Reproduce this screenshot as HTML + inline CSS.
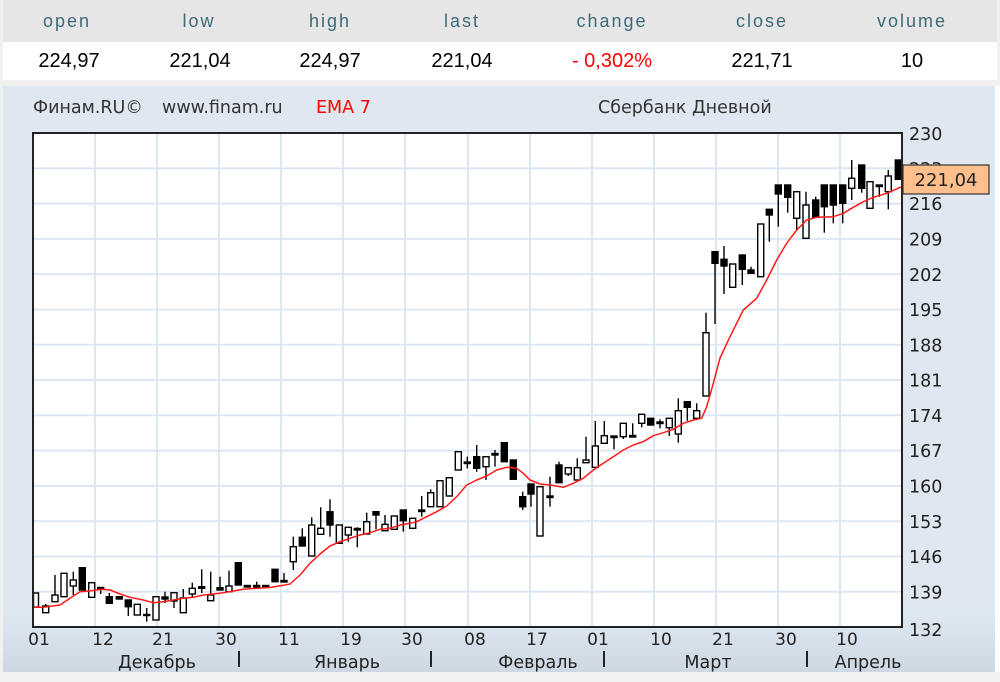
<!DOCTYPE html>
<html><head><meta charset="utf-8">
<style>
html,body{margin:0;padding:0;background:#fff;}
svg{display:block;}
.h{fill:#fff;stroke:#000;stroke-width:1.4}
.f{fill:#000;stroke:#000;stroke-width:1.4}
.w line{stroke:#000;stroke-width:1.4}
.hd{font-family:"Liberation Sans",sans-serif;font-size:18px;fill:#3d6a7a;letter-spacing:2px;text-anchor:middle}
.vl{font-family:"Liberation Sans",sans-serif;font-size:20px;fill:#000;text-anchor:middle}
.ct{font-family:"DejaVu Sans",sans-serif;font-size:17.5px;fill:#333}
.ax{font-family:"DejaVu Sans",sans-serif;font-size:17.5px;fill:#222}
.tk{font-family:"DejaVu Sans",sans-serif;font-size:17px;fill:#222;text-anchor:middle}
.mo{font-family:"DejaVu Sans",sans-serif;font-size:17.5px;fill:#222;text-anchor:middle}
</style></head><body>
<svg width="1000" height="682" viewBox="0 0 1000 682" xmlns="http://www.w3.org/2000/svg">
<defs>
<linearGradient id="bg" x1="0" y1="0" x2="0" y2="1">
<stop offset="0" stop-color="#dfe8f1"/><stop offset="0.9" stop-color="#dfe8f1"/><stop offset="1" stop-color="#cdd8e3"/>
</linearGradient>
<clipPath id="pc"><rect x="33" y="133" width="869" height="494"/></clipPath>
</defs>
<rect x="0" y="0" width="1000" height="682" fill="#f0f0f0"/>
<rect x="3" y="0" width="994" height="42" fill="#e6e6e6"/>
<rect x="3" y="42" width="994" height="38" fill="#ffffff"/>
<rect x="3" y="86" width="992" height="586" fill="url(#bg)"/>
<rect x="995" y="86" width="5" height="586" fill="#ffffff"/>

<text class="hd" x="67" y="27">open</text>
<text class="hd" x="199" y="27">low</text>
<text class="hd" x="330" y="27">high</text>
<text class="hd" x="462" y="27">last</text>
<text class="hd" x="612" y="27">change</text>
<text class="hd" x="762" y="27">close</text>
<text class="hd" x="912" y="27">volume</text>

<text class="vl" x="69" y="67">224,97</text>
<text class="vl" x="200" y="67">221,04</text>
<text class="vl" x="330" y="67">224,97</text>
<text class="vl" x="462" y="67">221,04</text>
<text class="vl" x="612" y="67" fill="#ff0000" style="fill:#ff0000">- 0,302%</text>
<text class="vl" x="762" y="67">221,71</text>
<text class="vl" x="912" y="67">10</text>

<text class="ct" x="33" y="113">Финам.RU©</text>
<text class="ct" x="162" y="113">www.finam.ru</text>
<text class="ct" x="316" y="113" style="fill:#ff0000">EMA 7</text>
<text class="ct" x="598" y="113">Сбербанк Дневной</text>

<rect x="33" y="133" width="869" height="494" fill="#fff"/>
<g stroke="#dde7f2" stroke-width="2">
<line x1="95" y1="133" x2="95" y2="627"/><line x1="157" y1="133" x2="157" y2="627"/>
<line x1="219" y1="133" x2="219" y2="627"/><line x1="281" y1="133" x2="281" y2="627"/>
<line x1="343" y1="133" x2="343" y2="627"/><line x1="405" y1="133" x2="405" y2="627"/>
<line x1="468" y1="133" x2="468" y2="627"/><line x1="530" y1="133" x2="530" y2="627"/>
<line x1="592" y1="133" x2="592" y2="627"/><line x1="654" y1="133" x2="654" y2="627"/>
<line x1="716" y1="133" x2="716" y2="627"/><line x1="778" y1="133" x2="778" y2="627"/>
<line x1="840" y1="133" x2="840" y2="627"/>
<line x1="33" y1="168.3" x2="902" y2="168.3"/><line x1="33" y1="203.6" x2="902" y2="203.6"/>
<line x1="33" y1="238.9" x2="902" y2="238.9"/><line x1="33" y1="274.2" x2="902" y2="274.2"/>
<line x1="33" y1="309.5" x2="902" y2="309.5"/><line x1="33" y1="344.7" x2="902" y2="344.7"/>
<line x1="33" y1="380" x2="902" y2="380"/><line x1="33" y1="415.3" x2="902" y2="415.3"/>
<line x1="33" y1="450.6" x2="902" y2="450.6"/><line x1="33" y1="485.9" x2="902" y2="485.9"/>
<line x1="33" y1="521.2" x2="902" y2="521.2"/><line x1="33" y1="556.5" x2="902" y2="556.5"/>
<line x1="33" y1="591.7" x2="902" y2="591.7"/>
</g>

<g clip-path="url(#pc)">
<g class="w">
<line x1="36" y1="593" x2="36" y2="607"/><line x1="45.7" y1="604" x2="45.7" y2="613"/>
<line x1="55" y1="575" x2="55" y2="601.7"/><line x1="64" y1="573" x2="64" y2="597"/>
<line x1="73.3" y1="571.7" x2="73.3" y2="595"/><line x1="82.3" y1="567.7" x2="82.3" y2="590"/>
<line x1="91.7" y1="582.7" x2="91.7" y2="597.3"/><line x1="100.7" y1="587" x2="100.7" y2="594"/>
<line x1="109.3" y1="593" x2="109.3" y2="603.3"/><line x1="119.3" y1="596" x2="119.3" y2="599"/>
<line x1="128.3" y1="600" x2="128.3" y2="616"/><line x1="137.3" y1="604.3" x2="137.3" y2="615"/>
<line x1="146.7" y1="608" x2="146.7" y2="621.7"/><line x1="156" y1="596.7" x2="156" y2="620"/>
<line x1="165" y1="591.7" x2="165" y2="603"/><line x1="174" y1="592.7" x2="174" y2="608"/>
<line x1="183.3" y1="589" x2="183.3" y2="612.7"/><line x1="192.3" y1="582.7" x2="192.3" y2="598"/>
<line x1="201.7" y1="569.3" x2="201.7" y2="593"/><line x1="210.7" y1="571.7" x2="210.7" y2="600.7"/>
<line x1="220" y1="576.7" x2="220" y2="590"/><line x1="229" y1="570.7" x2="229" y2="591.7"/>
<line x1="256.7" y1="581.7" x2="256.7" y2="587"/><line x1="284" y1="573" x2="284" y2="582"/>
<line x1="293.3" y1="536.7" x2="293.3" y2="570"/><line x1="302.3" y1="528.3" x2="302.3" y2="546"/>
<line x1="311.7" y1="517.3" x2="311.7" y2="556"/><line x1="320.7" y1="507.3" x2="320.7" y2="534.3"/>
<line x1="330" y1="499.3" x2="330" y2="536.7"/><line x1="348.3" y1="527.3" x2="348.3" y2="541.7"/>
<line x1="357.3" y1="527.3" x2="357.3" y2="547.3"/><line x1="366.7" y1="512.7" x2="366.7" y2="534"/>
<line x1="376" y1="511.7" x2="376" y2="529.3"/><line x1="385" y1="515" x2="385" y2="530.7"/>
<line x1="403.3" y1="510" x2="403.3" y2="531.7"/><line x1="421.7" y1="496" x2="421.7" y2="516.7"/>
<line x1="430.7" y1="489.3" x2="430.7" y2="506.7"/><line x1="467.3" y1="456.7" x2="467.3" y2="468.3"/>
<line x1="476.7" y1="445" x2="476.7" y2="471.7"/><line x1="486" y1="456.7" x2="486" y2="480"/>
<line x1="495" y1="450" x2="495" y2="466.7"/><line x1="522.7" y1="491.7" x2="522.7" y2="510"/>
<line x1="531" y1="484" x2="531" y2="506.7"/><line x1="550" y1="476.7" x2="550" y2="506.7"/>
<line x1="559" y1="461.7" x2="559" y2="482.7"/><line x1="568.3" y1="467.7" x2="568.3" y2="476"/>
<line x1="577.3" y1="458.3" x2="577.3" y2="480"/><line x1="586" y1="436.7" x2="586" y2="462.7"/>
<line x1="595.3" y1="421" x2="595.3" y2="467.3"/><line x1="604.3" y1="421" x2="604.3" y2="443.3"/>
<line x1="614" y1="436.7" x2="614" y2="449.3"/><line x1="623.3" y1="423.3" x2="623.3" y2="439"/>
<line x1="632.7" y1="423.3" x2="632.7" y2="437"/><line x1="641.7" y1="414.3" x2="641.7" y2="427.3"/>
<line x1="660" y1="419.3" x2="660" y2="428.3"/><line x1="669.3" y1="418.3" x2="669.3" y2="436"/>
<line x1="678.3" y1="398.3" x2="678.3" y2="442.7"/><line x1="687.3" y1="401.7" x2="687.3" y2="420.7"/>
<line x1="696.7" y1="403.3" x2="696.7" y2="418.3"/><line x1="706" y1="312.7" x2="706" y2="396"/>
<line x1="715" y1="251.7" x2="715" y2="324"/><line x1="724" y1="246" x2="724" y2="294"/>
<line x1="742.3" y1="255" x2="742.3" y2="285"/><line x1="751" y1="266.7" x2="751" y2="273.3"/>
<line x1="769.3" y1="209.3" x2="769.3" y2="241.7"/><line x1="778.3" y1="185" x2="778.3" y2="226.7"/>
<line x1="787.7" y1="185" x2="787.7" y2="212.7"/><line x1="796.7" y1="191.7" x2="796.7" y2="230"/>
<line x1="806" y1="191.7" x2="806" y2="238.3"/><line x1="815.7" y1="196.7" x2="815.7" y2="217.3"/>
<line x1="824.3" y1="185" x2="824.3" y2="232.7"/><line x1="833.3" y1="185" x2="833.3" y2="223.3"/>
<line x1="842.7" y1="185" x2="842.7" y2="223.3"/><line x1="851.7" y1="160" x2="851.7" y2="200"/>
<line x1="861.7" y1="165" x2="861.7" y2="192.7"/><line x1="879.3" y1="185" x2="879.3" y2="196.7"/>
<line x1="888.3" y1="170" x2="888.3" y2="209.3"/>
</g>
<rect class="h" x="33.5" y="593" width="5" height="14"/>
<rect class="h" x="42.7" y="606" width="6" height="6.7"/>
<rect class="h" x="52" y="595" width="6" height="6.7"/>
<rect class="h" x="61" y="573.3" width="6" height="23.4"/>
<rect class="h" x="70.3" y="580" width="6" height="6"/>
<rect class="f" x="79.3" y="567.7" width="6" height="22.3"/>
<rect class="h" x="88.7" y="582.7" width="6" height="14.6"/>
<rect class="f" x="97.7" y="587.5" width="6" height="1.5"/>
<rect class="f" x="106.3" y="596.7" width="6" height="6.6"/>
<rect class="f" x="116.3" y="596.7" width="6" height="2.3"/>
<rect class="f" x="125.3" y="600" width="6" height="6.7"/>
<rect class="h" x="134.3" y="604.3" width="6" height="10.7"/>
<rect class="f" x="143.7" y="614.5" width="6" height="1"/>
<rect class="h" x="153" y="596.7" width="6" height="23.3"/>
<rect class="f" x="162" y="597" width="6" height="2"/>
<rect class="h" x="171" y="592.7" width="6" height="8.3"/>
<rect class="h" x="180.3" y="598" width="6" height="14.7"/>
<rect class="h" x="189.3" y="588.3" width="6" height="5.7"/>
<rect class="f" x="198.7" y="586.7" width="6" height="1.6"/>
<rect class="h" x="207.7" y="595" width="6" height="5.7"/>
<rect class="f" x="217" y="587.7" width="6" height="2.3"/>
<rect class="h" x="226" y="586" width="6" height="5.7"/>
<rect class="f" x="235.3" y="562.7" width="6" height="22.3"/>
<rect class="f" x="244.3" y="585.5" width="6" height="1.5"/>
<rect class="f" x="253.7" y="585.5" width="6" height="1.5"/>
<rect class="f" x="262.7" y="585.5" width="6" height="1.5"/>
<rect class="f" x="272" y="569.3" width="6" height="12.4"/>
<rect class="f" x="281" y="580.5" width="6" height="1.5"/>
<rect class="h" x="290.3" y="546.7" width="6" height="15"/>
<rect class="f" x="299.3" y="537.3" width="6" height="8.7"/>
<rect class="h" x="308.7" y="525" width="6" height="31"/>
<rect class="h" x="317.7" y="528.3" width="6" height="6"/>
<rect class="f" x="327" y="511.7" width="6" height="13.3"/>
<rect class="h" x="336.3" y="525" width="6" height="18.3"/>
<rect class="h" x="345.3" y="527.3" width="6" height="7.7"/>
<rect class="f" x="354.3" y="528.5" width="6" height="1.5"/>
<rect class="h" x="363.7" y="521.7" width="6" height="12.3"/>
<rect class="f" x="373" y="511.7" width="6" height="3.3"/>
<rect class="h" x="382" y="524.3" width="6" height="6.4"/>
<rect class="h" x="391.3" y="516" width="6" height="13.3"/>
<rect class="f" x="400.3" y="510" width="6" height="10.7"/>
<rect class="h" x="409.7" y="518.3" width="6" height="10"/>
<rect class="f" x="418.7" y="510" width="6" height="1.5"/>
<rect class="h" x="427.7" y="492.7" width="6" height="14"/>
<rect class="h" x="437" y="480.7" width="6" height="26"/>
<rect class="h" x="446.3" y="477.7" width="6" height="18.3"/>
<rect class="h" x="455.3" y="451.7" width="6" height="18.3"/>
<rect class="f" x="464.3" y="462" width="6" height="1.5"/>
<rect class="f" x="473.7" y="456.7" width="6" height="11.6"/>
<rect class="h" x="483" y="456.7" width="6" height="10"/>
<rect class="f" x="492" y="453.5" width="6" height="1.5"/>
<rect class="f" x="501.3" y="442.7" width="6" height="19"/>
<rect class="f" x="510.3" y="460" width="6" height="19.3"/>
<rect class="f" x="519.7" y="496.7" width="6" height="10"/>
<rect class="f" x="528" y="484" width="6" height="10"/>
<rect class="h" x="537" y="486.7" width="6" height="49.3"/>
<rect class="f" x="547" y="496" width="6" height="1.5"/>
<rect class="f" x="556" y="465" width="6" height="17.7"/>
<rect class="h" x="565.3" y="467.7" width="6" height="6.3"/>
<rect class="h" x="574.3" y="467.7" width="6" height="12.3"/>
<rect class="h" x="583" y="460" width="6" height="2.7"/>
<rect class="h" x="592.3" y="446" width="6" height="21.3"/>
<rect class="h" x="601.3" y="435.7" width="6" height="7.6"/>
<rect class="f" x="611" y="436" width="6" height="1.5"/>
<rect class="h" x="620.3" y="423.3" width="6" height="13.4"/>
<rect class="f" x="629.7" y="435.5" width="6" height="1.5"/>
<rect class="h" x="638.7" y="414.3" width="6" height="9"/>
<rect class="f" x="647.7" y="418.3" width="6" height="6.7"/>
<rect class="f" x="657" y="422" width="6" height="1.5"/>
<rect class="h" x="666.3" y="418.3" width="6" height="9.4"/>
<rect class="h" x="675.3" y="410.7" width="6" height="23.3"/>
<rect class="f" x="684.3" y="401.7" width="6" height="5.6"/>
<rect class="h" x="693.7" y="410.7" width="6" height="7.6"/>
<rect class="h" x="703" y="332.7" width="6" height="63.3"/>
<rect class="f" x="712" y="251.7" width="6" height="11.6"/>
<rect class="f" x="721" y="259.3" width="6" height="6.7"/>
<rect class="h" x="729.7" y="264" width="6" height="23.3"/>
<rect class="f" x="739.3" y="255" width="6" height="14.3"/>
<rect class="f" x="748" y="270" width="6" height="3.3"/>
<rect class="h" x="757.7" y="224" width="6" height="52.7"/>
<rect class="f" x="766.3" y="209.3" width="6" height="5.7"/>
<rect class="f" x="775.3" y="185" width="6" height="9"/>
<rect class="f" x="784.7" y="185" width="6" height="12.3"/>
<rect class="h" x="793.7" y="191.7" width="6" height="26.6"/>
<rect class="h" x="803" y="205" width="6" height="33.3"/>
<rect class="f" x="812.7" y="200" width="6" height="17.3"/>
<rect class="f" x="821.3" y="185" width="6" height="21.7"/>
<rect class="f" x="830.3" y="185" width="6" height="20"/>
<rect class="f" x="839.7" y="185" width="6" height="18.3"/>
<rect class="h" x="848.7" y="178.3" width="6" height="10"/>
<rect class="f" x="858.7" y="165" width="6" height="23.3"/>
<rect class="h" x="867" y="181.7" width="6" height="26.6"/>
<rect class="f" x="876.3" y="185" width="6" height="1.5"/>
<rect class="h" x="885.3" y="176" width="6" height="15.7"/>
<rect class="f" x="895.3" y="160" width="6" height="19.3"/>

<polyline fill="none" stroke="#ff1a1a" stroke-width="1.5" stroke-linejoin="round" points="33,607.3 43.3,607.3 60,605 70,598.3 80,591.7 91.7,590.7 101.7,589.3 110,590 120,594 130,597.3 143.3,600 153.3,602.7 163.3,601.7 173.3,600 183.3,598.3 193.3,597.3 203.3,595 213.3,594 223.3,592.7 233.3,591 243.3,589.3 256.7,588.3 270,587.5 283.3,585.3 290,584 300,575 310,563.3 320,554 330,546 340,541.7 350,538.3 360,535 370,532.7 380,529.3 390,528.3 400,525 410,523.3 416.7,521.7 426.7,516.7 436.7,511.7 446.7,506 456.7,496.7 466.7,485 476.7,480 486.7,476 496.7,470 506.7,467.3 516.7,468.3 523.3,473.3 530,480 540,484 550,485 563.3,487.3 573.3,483.3 583.3,478.3 593.3,470 603.3,463.3 613.3,456.7 623.3,450 633.3,445 643.3,441.7 653.3,435.7 663.3,432.7 673.3,429.3 683.3,423.3 693.3,420 701.7,418.3 706.7,406.7 713.3,383.3 720,358 730,336.7 743.3,310 756.7,298.3 766.7,280 776.7,260 786.7,243.3 796.7,230 806.7,220 816.7,217.3 833.3,216.7 843.3,213.3 853.3,207.3 863.3,201.7 873.3,197.3 886.7,193.3 901.7,186.7"/>
</g>

<rect x="33" y="133" width="869" height="494" fill="none" stroke="#222" stroke-width="2"/>

<text class="ax" x="909" y="140">230</text>
<text class="ax" x="909" y="175">223</text>
<text class="ax" x="909" y="210">216</text>
<text class="ax" x="909" y="245.5">209</text>
<text class="ax" x="909" y="281">202</text>
<text class="ax" x="909" y="316">195</text>
<text class="ax" x="909" y="351.5">188</text>
<text class="ax" x="909" y="386.5">181</text>
<text class="ax" x="909" y="422">174</text>
<text class="ax" x="909" y="457">167</text>
<text class="ax" x="909" y="492.5">160</text>
<text class="ax" x="909" y="528">153</text>
<text class="ax" x="909" y="563">146</text>
<text class="ax" x="909" y="598.5">139</text>
<text class="ax" x="909" y="636">132</text>

<rect x="903" y="165" width="86" height="29" fill="#ffbf8c" stroke="#333" stroke-width="1.2"/>
<text class="ax" x="946" y="186" text-anchor="middle" style="font-size:18px">221,04</text>

<text class="tk" x="39" y="645">01</text>
<text class="tk" x="103" y="645">12</text>
<text class="tk" x="163" y="645">21</text>
<text class="tk" x="226" y="645">30</text>
<text class="tk" x="289" y="645">11</text>
<text class="tk" x="351" y="645">19</text>
<text class="tk" x="412" y="645">30</text>
<text class="tk" x="475" y="645">08</text>
<text class="tk" x="537" y="645">17</text>
<text class="tk" x="598" y="645">01</text>
<text class="tk" x="661" y="645">10</text>
<text class="tk" x="723" y="645">21</text>
<text class="tk" x="786" y="645">30</text>
<text class="tk" x="847" y="645">10</text>

<text class="mo" x="157" y="668">Декабрь</text>
<text class="mo" x="347" y="668">Январь</text>
<text class="mo" x="538" y="668">Февраль</text>
<text class="mo" x="708" y="668">Март</text>
<text class="mo" x="868" y="668">Апрель</text>
<g stroke="#222" stroke-width="2">
<line x1="239" y1="651" x2="239" y2="667"/>
<line x1="431" y1="651" x2="431" y2="667"/>
<line x1="604" y1="651" x2="604" y2="667"/>
<line x1="807" y1="651" x2="807" y2="667"/>
</g>
</svg>
</body></html>
